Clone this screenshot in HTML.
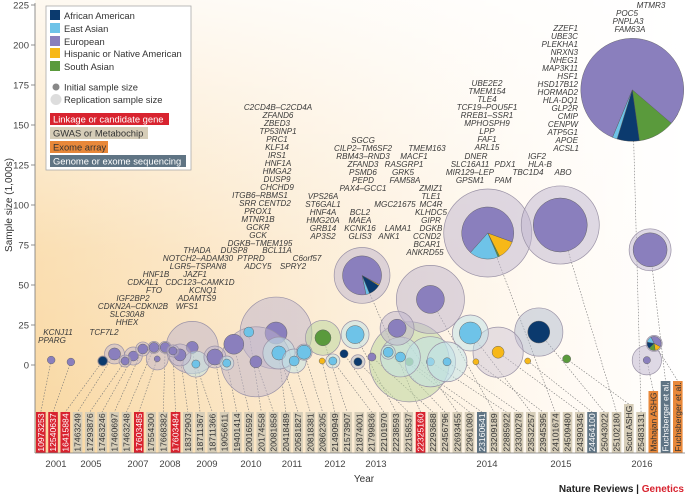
<!DOCTYPE html>
<html><head><meta charset="utf-8">
<style>
html,body{margin:0;padding:0;background:#fff;}
svg{display:block;font-family:"Liberation Sans",sans-serif;}
.g{font-style:italic;font-size:8.1px;fill:#3a3a3a;}
</style></head>
<body>
<svg id="chart" width="685" height="495" viewBox="0 0 685 495" xmlns="http://www.w3.org/2000/svg">
<defs>
<linearGradient id="bgH" x1="0" x2="1" y1="0" y2="0">
<stop offset="0" stop-color="#f9d7a0"/><stop offset="0.35" stop-color="#fbe6c6"/><stop offset="0.75" stop-color="#fff8ee"/><stop offset="1" stop-color="#ffffff"/>
</linearGradient>
<linearGradient id="bgV" x1="0" x2="0" y1="0" y2="1">
<stop offset="0" stop-color="#ffffff" stop-opacity="0.85"/><stop offset="0.55" stop-color="#ffffff" stop-opacity="0.2"/><stop offset="1" stop-color="#ffffff" stop-opacity="0"/>
</linearGradient>
</defs>
<rect x="35" y="0" width="650" height="453" fill="url(#bgH)"/>
<rect x="35" y="0" width="650" height="453" fill="url(#bgV)"/>
<g id="leaders"></g>
<g id="bubbles"></g>
<g id="labels"></g>
<g id="axes"></g>

<g class="g">
<text x="52" y="343" text-anchor="middle">PPARG</text>
<text x="58" y="335" text-anchor="middle">KCNJ11</text>
<text x="104" y="335" text-anchor="middle">TCF7L2</text>
<g text-anchor="middle">
<text x="156" y="277">HNF1B</text><text x="143" y="285">CDKAL1</text><text x="154" y="293">FTO</text>
<text x="133" y="301">IGF2BP2</text><text x="133" y="309">CDKN2A–CDKN2B</text><text x="127" y="317">SLC30A8</text><text x="127" y="325">HHEX</text>
<text x="197" y="253">THADA</text><text x="198" y="261">NOTCH2–ADAM30</text><text x="198" y="269">LGR5–TSPAN8</text>
<text x="195" y="277">JAZF1</text><text x="200" y="285">CDC123–CAMK1D</text><text x="203" y="293">KCNQ1</text><text x="197" y="301">ADAMTS9</text><text x="187" y="309">WFS1</text>
<text x="234" y="253">DUSP8</text><text x="277" y="253">BCL11A</text><text x="251" y="261">PTPRD</text><text x="307" y="261">C6orf57</text>
<text x="258" y="269">ADCY5</text><text x="293" y="269">SPRY2</text>
<text x="278" y="110">C2CD4B–C2CD4A</text><text x="278" y="118">ZFAND6</text><text x="277" y="126">ZBED3</text><text x="278" y="134">TP53INP1</text>
<text x="277" y="142">PRC1</text><text x="277" y="150">KLF14</text><text x="277" y="158">IRS1</text><text x="278" y="166">HNF1A</text>
<text x="277" y="174">HMGA2</text><text x="277" y="182">DUSP9</text><text x="277" y="190">CHCHD9</text><text x="260" y="198">ITGB6–RBMS1</text>
<text x="265" y="206">SRR   CENTD2</text><text x="258" y="214">PROX1</text><text x="258" y="222">MTNR1B</text><text x="258" y="230">GCKR</text>
<text x="258" y="238">GCK</text><text x="260" y="246">DGKB–TMEM195</text>
<text x="363" y="143">SGCG</text><text x="363" y="151">CILP2–TM6SF2</text><text x="363" y="159">RBM43–RND3</text><text x="363" y="167">ZFAND3</text>
<text x="363" y="175">PSMD6</text><text x="363" y="183">PEPD</text><text x="363" y="191">PAX4–GCC1</text>
<text x="323" y="199">VPS26A</text><text x="323" y="207">ST6GAL1</text><text x="323" y="215">HNF4A</text><text x="323" y="223">HMG20A</text><text x="323" y="231">GRB14</text><text x="323" y="239">AP3S2</text>
<text x="360" y="215">BCL2</text><text x="360" y="223">MAEA</text><text x="360" y="231">KCNK16</text><text x="360" y="239">GLIS3</text>
<text x="395" y="207">MGC21675</text><text x="398" y="231">LAMA1</text><text x="389" y="239">ANK1</text>
<text x="427" y="151">TMEM163</text><text x="414" y="159">MACF1</text><text x="404" y="167">RASGRP1</text><text x="403" y="175">GRK5</text><text x="405" y="183">FAM58A</text>
<text x="431" y="191">ZMIZ1</text><text x="431" y="199">TLE1</text><text x="431" y="207">MC4R</text><text x="431" y="215">KLHDC5</text><text x="431" y="223">GIPR</text>
<text x="431" y="231">DGKB</text><text x="427" y="239">CCND2</text><text x="427" y="247">BCAR1</text><text x="425" y="255">ANKRD55</text>
<text x="487" y="86">UBE2E2</text><text x="487" y="94">TMEM154</text><text x="487" y="102">TLE4</text><text x="487" y="110">TCF19–POU5F1</text>
<text x="487" y="118">RREB1–SSR1</text><text x="487" y="126">MPHOSPH9</text><text x="487" y="134">LPP</text><text x="487" y="142">FAF1</text><text x="487" y="150">ARL15</text>
<text x="476" y="159">DNER</text><text x="470" y="167">SLC16A11</text><text x="470" y="175">MIR129–LEP</text><text x="470" y="183">GPSM1</text>
<text x="505" y="167">PDX1</text><text x="503" y="183">PAM</text>
<text x="537" y="159">IGF2</text><text x="540" y="167">HLA-B</text><text x="528" y="175">TBC1D4</text><text x="563" y="175">ABO</text>
<text x="651" y="8">MTMR3</text><text x="627" y="16">POC5</text><text x="628" y="24">PNPLA3</text><text x="630" y="32">FAM63A</text>
</g>
<g text-anchor="end">
<text x="578" y="31">ZZEF1</text><text x="578" y="39">UBE3C</text><text x="578" y="47">PLEKHA1</text><text x="578" y="55">NRXN3</text>
<text x="578" y="63">NHEG1</text><text x="578" y="71">MAP3K11</text><text x="578" y="79">HSF1</text><text x="578" y="87">HSD17B12</text>
<text x="578" y="95">HORMAD2</text><text x="578" y="103">HLA-DQ1</text><text x="578" y="111">GLP2R</text><text x="578" y="119">CMIP</text>
<text x="578" y="127">CENPW</text><text x="578" y="135">ATP5G1</text><text x="578" y="143">APOE</text><text x="579" y="151">ACSL1</text>
</g>
</g>

<g font-size="9.4" fill="#333">
<rect x="46" y="6" width="145" height="164" fill="#fff" stroke="#aaa" stroke-width="0.8"/>
<rect x="50" y="10" width="10" height="10" fill="#0b3a6e"/>
<text x="64" y="19">African American</text>
<rect x="50" y="23" width="10" height="10" fill="#6ec3e8"/>
<text x="64" y="32">East Asian</text>
<rect x="50" y="36" width="10" height="10" fill="#8a7fbd"/>
<text x="64" y="45">European</text>
<rect x="50" y="48" width="10" height="10" fill="#f7b818"/>
<text x="64" y="57">Hispanic or Native American</text>
<rect x="50" y="61" width="10" height="10" fill="#5a9a3c"/>
<text x="64" y="70">South Asian</text>
<circle cx="56" cy="87" r="3.5" fill="#888"/>
<text x="64" y="90.5">Initial sample size</text>
<circle cx="56" cy="99.5" r="5.5" fill="#ddd"/>
<text x="64" y="103">Replication sample size</text>
<rect x="50" y="113" width="119" height="12" fill="#d8232f"/><text x="53" y="122.5" fill="#fff">Linkage or candidate gene</text>
<rect x="50" y="127" width="98" height="12" fill="#d6cdb8"/><text x="53" y="136.5" fill="#333">GWAS or Metabochip</text>
<rect x="50" y="141" width="58" height="12" fill="#e8883a"/><text x="53" y="150.5" fill="#333">Exome array</text>
<rect x="50" y="155" width="136" height="12" fill="#5f7484"/><text x="53" y="164.5" fill="#fff">Genome or exome sequencing</text>
</g>

<text transform="translate(12,205) rotate(-90)" text-anchor="middle" font-size="10" fill="#333">Sample size (1,000s)</text>
<text x="364" y="482" text-anchor="middle" font-size="10" fill="#333">Year</text>
<text x="684" y="492" text-anchor="end" font-size="10" font-weight="bold" fill="#222">Nature Reviews | <tspan fill="#d8232f">Genetics</tspan></text>
</svg>
<script>
// ---- data ----
const yTicks = [0, 25, 50, 75, 100, 125, 150, 175, 200, 225];
const yearTicks = [2001, 2005, 2007, 2008, 2009, 2010, 2011, 2012, 2013, 2014, 2015, 2016];
// study publication date (decimal year)
const studyDates = [2000.45, 2002.7, 2005.5, 2006.0, 2006.45, 2006.8, 2007.15, 2007.5, 2007.6, 2007.85, 2008.08, 2008.27,
  2008.6, 2008.7, 2009.18, 2009.45, 2009.61, 2010.61, 2010.12, 2009.95, 2010.68, 2011.05, 2011.28, 2011.72, 2011.7,
  2011.95, 2012.49, 2012.66, 2012.22, 2012.56, 2012.9, 2013.11, 2013.19, 2013.49, 2013.3, 2013.49, 2013.64, 2013.22,
  2013.85, 2013.9, 2014.15, 2014.55, 2014.01, 2014.99, 2014.7, 2015.07, 2016.06, 2016.15, 2016.1, 2015.88];
// plotted sample size (thousands)
const sampleSize = [3.1, 1.9, 2.5, 6.9, 2.5, 5.6, 10, 11, 3.8, 11, 8.8, 6.3,
  11, 0.6, 5, 1.2, 13, 20, 2, 20.6, 7.5, 2.5, 8, 17, 2.5,
  2.5, 19, 56, 7, 2, 5, 8, 23, 41, 2, 2, 2, 5,
  20, 2, 8, 2.5, 82.5, 87.5, 20.6, 3.8, 3, 13.5, 72, 172];
// initial sample size (thousands)
const initialN = [0.9, 0.9, 1.2, 2.2, 1.0, 1.5, 1.5, 1.5, 0.55, 1.5, 1.0, 2.2,
  2.2, 1.0, 3.9, 1.0, 6, 7.3, 2.2, 1.5, 3, 1.5, 3, 3.9, 0.55,
  1.0, 4.9, 23, 1.0, 1.0, 1.0, 1.5, 4.9, 11.8, 1.0, 1.0, 1.0, 1.5,
  7.3, 0.55, 2.2, 0.55, 41, 44, 7.3, 1.0, 0.8, 3.0, 17.4, 160];
// replication sample size (thousands, 0 = none)
const replicationN = [0, 0, 1.5, 6, 2.2, 4.9, 3, 2.2, 7.3, 2.2, 2.2, 7.3,
  41, 10.2, 7.3, 3, 0, 78, 74, 0, 15.5, 8.7, 3.9, 18.5, 0,
  3, 11.8, 47, 0, 3, 0, 3, 17.4, 70, 97, 38, 24, 24,
  19.6, 0, 38, 0, 117, 92, 35, 0, 13, 3.9, 26.6, 0];
// ancestry of initial sample: AA, EA, EU, HI, SA
const ancestry = ["EU","EU","AA","EU","EU","EU","EU","EU","EU","EU","EU","EU",
  "EU","EA","EU","EA","EU","EU","EU","EA","EA","EA","EA","SA","HI",
  "EA","EA","PIE1","AA","AA","EU","EA","EU","EU","SA","EA","EA","EA",
  "EA","HI","HI","HI","PIE2","EU","AA","SA","EU","PIE3","EU","PIE4"];
// pie slice shares (EU, EA, AA, HI, SA) for multi-ancestry studies
const pieEU = {PIE1: 0.86, PIE2: 0.69, PIE3: 0.4, PIE4: 0.8};
const pieEA = {PIE1: 0.03, PIE2: 0.18, PIE3: 0.15, PIE4: 0.015};
const pieAA = {PIE1: 0.10, PIE2: 0.0, PIE3: 0.15, PIE4: 0.07};
const pieHI = {PIE1: 0.01, PIE2: 0.12, PIE3: 0.15, PIE4: 0.03};
const pieSA = {PIE1: 0.0, PIE2: 0.01, PIE3: 0.15, PIE4: 0.12};
// study labels and type: L linkage/candidate, G GWAS, X exome array, S sequencing
const studyLabels = ["10973253","12540637","16415884","17463249","17293876","17463246","17460697","17463248","17603485","17554300","17668382","17603484","18372903","18711367","18711366","19056611","19401414","20016592","20174558","20081858","20418489","20581827","20818381","20862305","21490949","21573907","21874001","21799836","22101970","22238593","22158537","22325160","22293688","22456796","22693455","22961080","23160641","23209189","22885922","23300278","23532257","23945395","24101674","24509480","24390345","24464100","25043022","25102180","Scott ASHG","25483131","Mahajan ASHG","Fuchsberger et al.","Fuchsberger et al."];
const studyTypes = ["L","L","L","G","G","G","G","G","L","G","G","L","G","G","G","G","G","G","G","G","G","G","G","G","G","G","G","G","G","G","G","L","G","G","G","G","S","G","G","G","G","G","G","G","G","S","G","G","G","G","X","S","X"];
const labelExtra = {48: 8, 50: 21, 51: 31, 52: 31};

// ---- axes ----
const NS = "http://www.w3.org/2000/svg";
function yOf(v){ return 365 - 1.6 * v; }
function xOf(year){
  const px = [56, 91, 138, 170, 207, 251, 292, 335, 376, 487, 561, 642];
  if (year <= yearTicks[0]) return px[0] + (year - yearTicks[0]) * (px[1]-px[0])/(yearTicks[1]-yearTicks[0]);
  for (let i = 0; i < yearTicks.length - 1; i++) {
    if (year <= yearTicks[i+1]) return px[i] + (year - yearTicks[i]) * (px[i+1]-px[i])/(yearTicks[i+1]-yearTicks[i]);
  }
  const n = yearTicks.length - 1;
  return px[n] + (year - yearTicks[n]) * 81;
}
function rOf(n){ return 4.07 * Math.sqrt(n); }
const colorOf = {AA:"#0b3a6e", EA:"#6ec3e8", EU:"#8a7fbd", HI:"#f7b818", SA:"#5a9a3c"};
const outerFill = {AA:"rgba(175,185,205,0.5)", EA:"rgba(190,225,232,0.5)", EU:"rgba(190,180,205,0.5)", HI:"rgba(200,190,210,0.45)", SA:"rgba(190,215,160,0.55)"};
function mk(tag, attrs, parent){
  const e = document.createElementNS(NS, tag);
  for (const k in attrs) e.setAttribute(k, attrs[k]);
  parent.appendChild(e); return e;
}

const axes = document.getElementById("axes");
let ln = mk("line", {x1:35, y1:3, x2:35, y2:453, stroke:"#777", "stroke-width":0.8}, axes);


ln = mk("line", {x1:35, y1:453, x2:685, y2:453, stroke:"#777", "stroke-width":0.8}, axes);


yTicks.forEach(v => {
  const t = mk("line", {x1:31, x2:35, y1:yOf(v), y2:yOf(v), stroke:"#777", "stroke-width":0.8}, axes);
  
  
  const tx = mk("text", {x:29, y:yOf(v)+3.5, "text-anchor":"end", "font-size":9.5, fill:"#444"}, axes);
  tx.textContent = v;
  
  
});
yearTicks.forEach(y => {
  const tx = mk("text", {x:xOf(y), y:467, "text-anchor":"middle", "font-size":9.5, fill:"#444"}, axes);
  tx.textContent = y;
  
  
});

// ---- study labels ----
const labG = document.getElementById("labels");
const typeFill = {L:"#d8232f", G:"#d6cdb8", X:"#e8883a", S:"#5f7484"};
const typeText = {L:"#fff", G:"#333", X:"#333", S:"#fff"};
function labX(i){ return 36 + i * 12.25; }
studyLabels.forEach((s, i) => {
  const top = 412 - (labelExtra[i] || 0);
  const r = mk("rect", {x:labX(i), y:top, width:9.6, height:453-top, fill:typeFill[studyTypes[i]]}, labG);
  
  
  const cx = labX(i) + 4.8, cy = (top + 453) / 2;
  const t = mk("text", {x:cx, y:cy, transform:`rotate(-90 ${cx} ${cy})`, "text-anchor":"middle", "dominant-baseline":"central", "font-size":8.6, fill:typeText[studyTypes[i]]}, labG);
  t.textContent = s;
  
  
});

// ---- leaders ----
const leadG = document.getElementById("leaders");
const order = studyDates.map((d, i) => i).sort((a, b) => studyDates[a] - studyDates[b]);
order.forEach((ci, rank) => {
  const li = Math.round(rank * (studyLabels.length - 1) / (order.length - 1));
  const top = 412 - (labelExtra[li] || 0);
  const l = mk("line", {x1:xOf(studyDates[ci]), y1:yOf(sampleSize[ci]), x2:labX(li)+4.8, y2:top, stroke:"#777", "stroke-width":0.6, "stroke-dasharray":"1.5,1.5"}, leadG);
  
  
});

// ---- bubbles ----
const bub = document.getElementById("bubbles");
const drawIdx = studyDates.map((d, i) => i).sort((a, b) => (replicationN[b] + initialN[b]) - (replicationN[a] + initialN[a]));
drawIdx.forEach(i => {
  const cx = xOf(studyDates[i]), cy = yOf(sampleSize[i]);
  const anc = ancestry[i];
  const isPie = anc.startsWith("PIE");
  if (replicationN[i] > 0) {
    const o = mk("circle", {cx, cy, r:rOf(replicationN[i]), fill: isPie ? outerFill.EU : outerFill[anc], stroke:"#9a92a6", "stroke-width":0.7}, bub);
    
    
  }
  const r = rOf(initialN[i]);
  if (!isPie) {
    const c = mk("circle", {cx, cy, r, fill:colorOf[anc], stroke:"#666", "stroke-width":0.5}, bub);
    
    
  } else {
    const shares = [["HI", pieHI[anc]], ["SA", pieSA[anc]], ["AA", pieAA[anc]], ["EA", pieEA[anc]], ["EU", pieEU[anc]]];
    let a = (anc === "PIE2" ? 110 : 118) * Math.PI / 180;
    const g = mk("g", {}, bub);
    
    
    shares.forEach(([k, f]) => {
      if (f <= 0) return;
      const a2 = a + f * 2 * Math.PI;
      const x1 = cx + r * Math.sin(a), y1 = cy - r * Math.cos(a);
      const x2 = cx + r * Math.sin(a2), y2 = cy - r * Math.cos(a2);
      const p = mk("path", {d:`M${cx},${cy} L${x1},${y1} A${r},${r} 0 ${f > 0.5 ? 1 : 0} 1 ${x2},${y2} Z`, fill:colorOf[k], stroke:"#555", "stroke-width":0.4}, g);
      
      
      a = a2;
    });
  }
});
</script>
</body></html>
